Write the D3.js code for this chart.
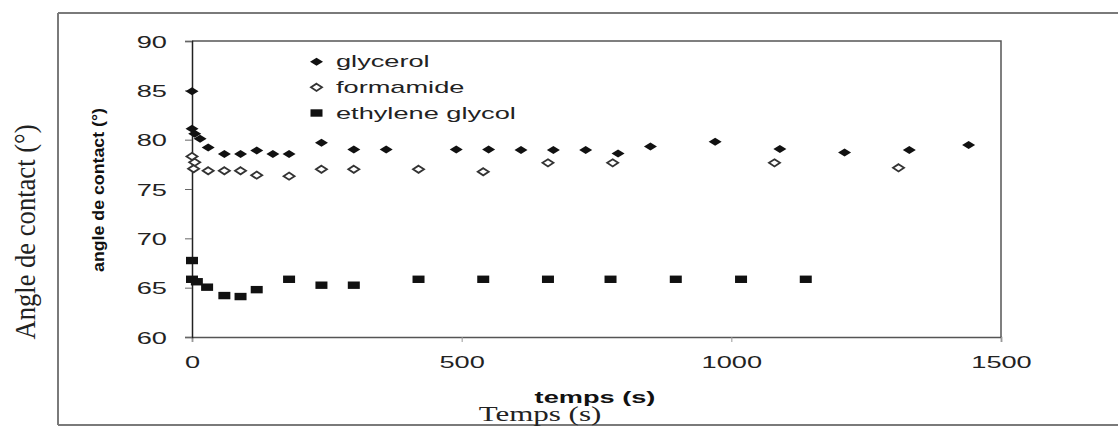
<!DOCTYPE html>
<html><head><meta charset="utf-8">
<script src="https://cdn.jsdelivr.net/npm/d3@7"></script>
<style>html,body{margin:0;padding:0;background:#fff;}svg{display:block;}</style>
</head><body>
<svg id="chart" width="1118" height="428"></svg>
<script>
// ---- data ----
const glycerolT = [0,0,5,15,30,60,90,120,150,180,240,300,360,490,550,610,670,730,790,850,970,1090,1210,1330,1440];
const glycerolV = [84.9,81.1,80.6,80.1,79.2,78.55,78.55,78.9,78.55,78.55,79.7,79.0,79.0,79.0,79.0,78.95,78.95,78.95,78.6,79.3,79.8,79.05,78.7,78.95,79.45];
const formamideT = [0,5,3,30,60,90,120,180,240,300,420,540,660,780,1080,1310];
const formamideV = [78.3,77.7,77.05,76.85,76.85,76.85,76.4,76.3,77.0,77.0,77.0,76.75,77.65,77.65,77.65,77.15];
const ethyleneT = [0,0,9,28,60,90,120,180,240,300,420,540,660,776,897,1018,1138];
const ethyleneV = [67.75,65.85,65.6,65.05,64.2,64.1,64.8,65.85,65.25,65.25,65.85,65.85,65.85,65.85,65.85,65.85,65.85];
const seriesNames = ["glycerol","formamide","ethylene glycol"];
const xTicks = [0,500,1000,1500];
const yTicks = [60,65,70,75,80,85,90];
const xTitle = "temps (s)";
const yTitle = "angle de contact (°)";
const outerXTitle = "Temps (s)";
const outerYTitle = "Angle de contact (°)";

const svg = d3.select("#chart");
const SX = 1.7; // horizontal stretch of the source picture
const x = d3.scaleLinear().domain([0,1500]).range([192,1001]);
const y = d3.scaleLinear().domain([60,90]).range([337,41]);

// outer frame
const frame = svg.append("g").attr("stroke","#7a7a7a").attr("stroke-width",2);
frame.append("line").attr("x1",58).attr("x2",58).attr("y1",13).attr("y2",425);
frame.append("line").attr("x1",58).attr("x2",1118).attr("y1",13).attr("y2",13);
frame.append("line").attr("x1",58).attr("x2",1118).attr("y1",425).attr("y2",425);

// plot box top/right
svg.append("path")
  .attr("d",`M${x(0)},${y(90)}H${x(1500)}V${y(60)}`)
  .attr("fill","none").attr("stroke","#555").attr("stroke-width",1.5);

// axes
const fontSans = "Liberation Sans, Arial, sans-serif";
const gx = svg.append("g").attr("transform",`translate(0,${y(60)})`)
  .call(d3.axisBottom(x).tickValues(xTicks).tickSize(5).tickFormat(d3.format("d")));
gx.select(".domain").attr("stroke","#555").attr("stroke-width",1.5);
gx.selectAll(".tick line").attr("stroke","#999");
gx.selectAll(".tick text").attr("y",0).attr("dy",0)
  .attr("transform",`translate(0,31) scale(${SX},1)`)
  .attr("font-family",fontSans).attr("font-size",16).attr("fill","#222");

const gy = svg.append("g").attr("transform",`translate(${x(0)},0)`)
  .call(d3.axisLeft(y).tickValues(yTicks).tickSize(7).tickFormat(d3.format("d")));
gy.select(".domain").attr("stroke","#222").attr("stroke-width",1.5);
gy.selectAll(".tick line").attr("stroke","#666");
gy.selectAll(".tick text").attr("x",0).attr("dy",0)
  .attr("transform",`translate(-25,6) scale(${SX},1)`)
  .attr("font-family",fontSans).attr("font-size",16).attr("fill","#222");

// axis titles
svg.append("text").attr("transform",`translate(595,403) scale(${SX},1)`)
  .attr("text-anchor","middle").attr("font-family",fontSans).attr("font-weight","bold")
  .attr("font-size",16).attr("fill","#111").text(xTitle);
svg.append("text").attr("transform",`translate(104,190) rotate(-90)`)
  .attr("text-anchor","middle").attr("font-family",fontSans).attr("font-weight","bold")
  .attr("font-size",16).attr("textLength",164).attr("lengthAdjust","spacingAndGlyphs")
  .attr("fill","#111").text(yTitle);
svg.append("text").attr("transform",`translate(540,421) scale(1.55,1)`)
  .attr("text-anchor","middle").attr("font-family","Liberation Serif, Times New Roman, serif")
  .attr("font-size",20).attr("fill","#222").text(outerXTitle);
svg.append("text").attr("transform",`translate(35,232) scale(1.35,1) rotate(-90)`)
  .attr("text-anchor","middle").attr("font-family","Liberation Serif, Times New Roman, serif")
  .attr("font-size",22).attr("textLength",215).attr("lengthAdjust","spacingAndGlyphs")
  .attr("fill","#222").text(outerYTitle);

// markers
const diamond = (w,h) => `M0,${-h}L${w},0L0,${h}L${-w},0Z`;
function drawMarker(g, kind){
  if(kind===0) g.append("path").attr("d",diamond(6.5,4)).attr("fill","#111");
  else if(kind===1) g.append("path").attr("d",diamond(5.5,3.6)).attr("fill","#fff").attr("stroke","#333").attr("stroke-width",1.8);
  else g.append("rect").attr("x",-6).attr("y",-3.7).attr("width",12).attr("height",7.4).attr("fill","#111");
}
const seriesT = [glycerolT, formamideT, ethyleneT];
const seriesV = [glycerolV, formamideV, ethyleneV];
seriesT.forEach((ts,k)=>{
  const data = ts.map((t,i)=>({t, v:seriesV[k][i]}));
  svg.append("g").selectAll("g").data(data).join("g")
    .attr("transform",d=>`translate(${x(d.t)},${y(d.v)})`)
    .each(function(){ drawMarker(d3.select(this),k); });
});

// legend
const legY = [61.7, 87.3, 113];
seriesNames.forEach((name,k)=>{
  const g = svg.append("g").attr("transform",`translate(316.5,${legY[k]})`);
  drawMarker(g,k);
  svg.append("text").attr("transform",`translate(336,${legY[k]+5.5}) scale(${SX},1)`)
    .attr("font-family",fontSans).attr("font-size",16).attr("fill","#222").text(name);
});
</script>
</body></html>
